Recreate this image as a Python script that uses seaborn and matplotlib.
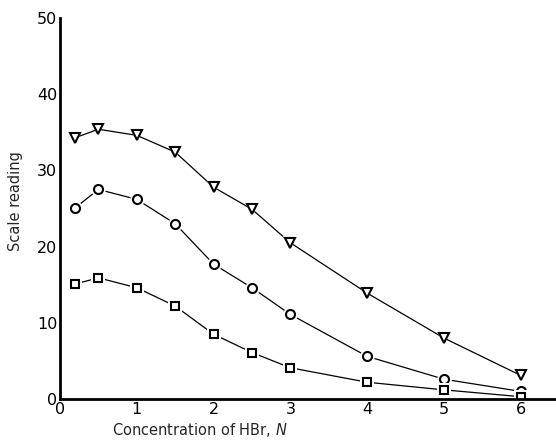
import matplotlib
matplotlib.use("Agg")
import matplotlib.pyplot as plt
import seaborn as sns
import pandas as pd

# HBr concentration (N) and scale readings for the three series
conc = [0.2, 0.5, 1, 1.5, 2, 2.5, 3, 4, 5, 6]
triangles = [34.3, 35.4, 34.6, 32.4, 27.8, 24.9, 20.5, 13.9, 8.0, 3.1]
circles = [25.1, 27.5, 26.2, 23.0, 17.7, 14.6, 11.1, 5.6, 2.6, 1.0]
squares = [15.1, 15.9, 14.6, 12.2, 8.5, 6.1, 4.1, 2.2, 1.2, 0.3]

x_ticks = [0, 1, 2, 3, 4, 5, 6]
y_ticks = [0, 10, 20, 30, 40, 50]

df = pd.DataFrame({
    "conc": conc * 3,
    "reading": triangles + circles + squares,
    "series": ["tri"] * len(conc) + ["circ"] * len(conc) + ["sq"] * len(conc),
})

sns.set_style("white")
plt.rcParams["font.family"] = ["DejaVu Sans"]

fig = plt.figure(figsize=(5.56, 4.42), dpi=100)
ax = fig.add_axes([60 / 556, 1 - 399 / 442, 1 - 60 / 556, (399 - 18) / 442])

markers = {"tri": "v", "circ": "o", "sq": "s"}
sizes = {"tri": 6.5, "circ": 6.5, "sq": 5.5}
for key in ["tri", "circ", "sq"]:
    sub = df[df["series"] == key]
    # connecting line, with a white halo under each point so the line stops short
    sns.lineplot(data=sub, x="conc", y="reading", ax=ax, color="black",
                 linewidth=0.9, marker=markers[key], markersize=sizes[key] + 4,
                 markerfacecolor="white", markeredgecolor="white",
                 markeredgewidth=0, legend=False)
    # open markers on top
    sns.lineplot(data=sub, x="conc", y="reading", ax=ax, color="black",
                 linestyle="none", marker=markers[key], markersize=sizes[key],
                 markerfacecolor="white", markeredgecolor="black",
                 markeredgewidth=1.5, legend=False)

ax.set_xlim(0, 6.46)
ax.set_ylim(0, 50)
ax.set_xticks(x_ticks)
ax.set_yticks(y_ticks)
ax.tick_params(direction="in", length=4, width=1.2, labelsize=11.5,
               colors="black", pad=2)

for side in ["top", "right"]:
    ax.spines[side].set_visible(False)
for side in ["left", "bottom"]:
    ax.spines[side].set_linewidth(2)
    ax.spines[side].set_color("black")

ax.set_xlabel(r"Concentration of HBr, $\it{N}$", fontsize=10.5)
ax.xaxis.set_label_coords((200 - 60) / 496, -0.058)
ax.set_ylabel("Scale reading", fontsize=10.5)
ax.yaxis.set_label_coords(-0.075, 0.52)

fig.savefig("out.png", dpi=100)
